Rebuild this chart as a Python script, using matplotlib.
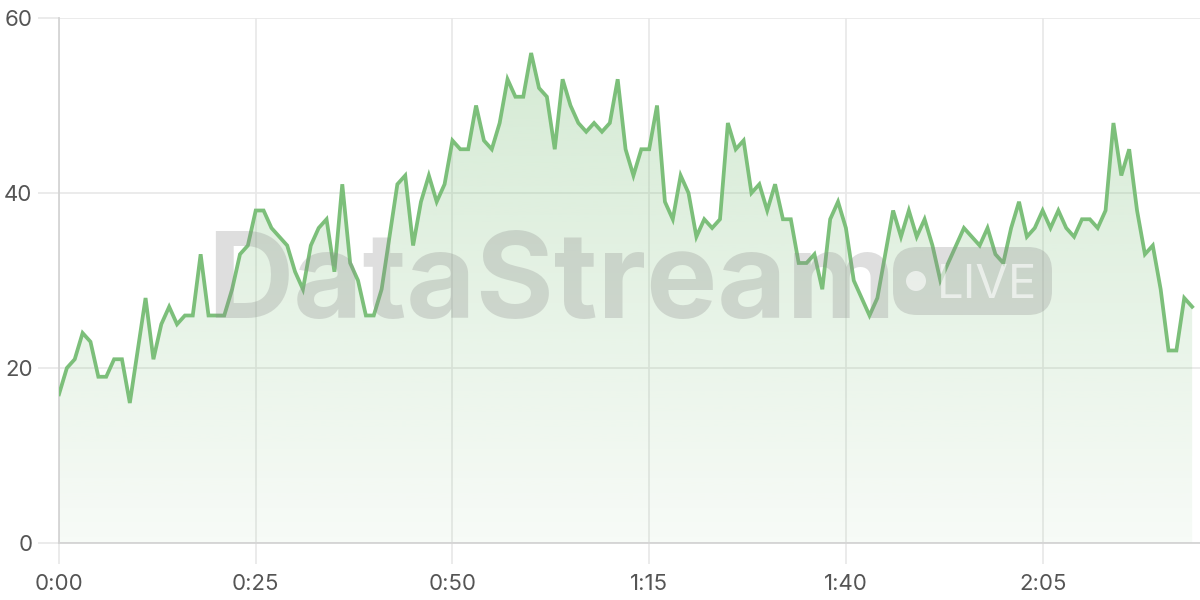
"""
Live stream metric over time, with the DataStream watermark.
"""

import matplotlib

matplotlib.use("Agg")
import matplotlib.pyplot as plt
import numpy as np
from matplotlib.patches import Ellipse, FancyBboxPatch, Polygon

# one sample per tick, 0..144
values = [
    17, 20, 21, 24, 23, 19, 19, 21, 21, 16,
    22, 28, 21, 25, 27, 25, 26, 26, 33, 26,
    26, 26, 29, 33, 34, 38, 38, 36, 35, 34,
    31, 29, 34, 36, 37, 31, 41, 32, 30, 26,
    26, 29, 35, 41, 42, 34, 39, 42, 39, 41,
    46, 45, 45, 50, 46, 45, 48, 53, 51, 51,
    56, 52, 51, 45, 53, 50, 48, 47, 48, 47,
    48, 53, 45, 42, 45, 45, 50, 39, 37, 42,
    40, 35, 37, 36, 37, 48, 45, 46, 40, 41,
    38, 41, 37, 37, 32, 32, 33, 29, 37, 39,
    36, 30, 28, 26, 28, 33, 38, 35, 38, 35,
    37, 34, 30, 32, 34, 36, 35, 34, 36, 33,
    32, 36, 39, 35, 36, 38, 36, 38, 36, 35,
    37, 37, 36, 38, 48, 42, 45, 38, 33, 34,
    29, 22, 22, 28, 27,
]
x_ticks = [0, 25, 50, 75, 100, 125]
x_tick_labels = ["0:00", "0:25", "0:50", "1:15", "1:40", "2:05"]
y_ticks = [0, 20, 40, 60]

LINE = "#7cbf7a"
GRID = "#e8e8e8"
LABEL = "#555555"

plt.rcParams["font.family"] = ["Inter", "DejaVu Sans"]

fig = plt.figure(figsize=(12, 6), dpi=100)
ax = fig.add_axes([59 / 1200, 57 / 600, 1 - 59 / 1200, (543 - 18) / 600])

x = np.arange(len(values))
ax.set_xlim(0, 145)
ax.set_ylim(0, 60)

# gradient fill under the line: same green, alpha grows with height
rgb = matplotlib.colors.to_rgb(LINE)
alpha = np.linspace(0.06, 0.34, 256)
grad = np.zeros((256, 1, 4))
grad[:, 0, :3] = rgb
grad[:, 0, 3] = alpha
img = ax.imshow(grad, aspect="auto", extent=[0, 145, 0, 60], origin="lower", zorder=1)
verts = [(0, 0)] + list(zip(x, values)) + [(x[-1], 0)]
clip = Polygon(verts, closed=True, transform=ax.transData, facecolor="none", edgecolor="none")
ax.add_patch(clip)
img.set_clip_path(clip)

ax.plot(x, values, color=LINE, linewidth=2.7, solid_joinstyle="miter", zorder=4)

# grid and axes
ax.set_xticks(x_ticks)
ax.set_xticklabels(x_tick_labels)
ax.set_yticks(y_ticks)
ax.grid(True, color=GRID, linewidth=1.2, zorder=0)
ax.set_axisbelow(True)
for side in ["top", "right"]:
    ax.spines[side].set_visible(False)
for side in ["left", "bottom"]:
    ax.spines[side].set_color("#d4d4d4")
    ax.spines[side].set_linewidth(1.3)
ax.tick_params(axis="both", length=15, width=1.2, color=GRID, labelsize=16,
               labelcolor=LABEL, pad=4)
ax.tick_params(axis="x", pad=7)

# watermark
fig.text(207 / 1200, 1 - 318 / 600, "DataStream", fontsize=86, fontweight="bold",
         color="#8a8a8a", alpha=0.28, ha="left", va="baseline", zorder=3)
badge = FancyBboxPatch((893 / 1200, 1 - 315 / 600), 159 / 1200, 68 / 600,
                       boxstyle="round,pad=0,rounding_size=0.02",
                       transform=fig.transFigure, facecolor="#8a8a8a", alpha=0.28,
                       edgecolor="none", zorder=3, mutation_aspect=2)
fig.patches.append(badge)
fig.patches.append(Ellipse((916 / 1200, 1 - 281 / 600), 20 / 1200, 20 / 600,
                           transform=fig.transFigure, facecolor="white", alpha=0.6,
                           edgecolor="none", zorder=3))
fig.text(937 / 1200, 1 - 298 / 600, "LIVE", fontsize=34, color="white", alpha=0.6,
         ha="left", va="baseline", zorder=3)

fig.savefig("out.png", dpi=100)
